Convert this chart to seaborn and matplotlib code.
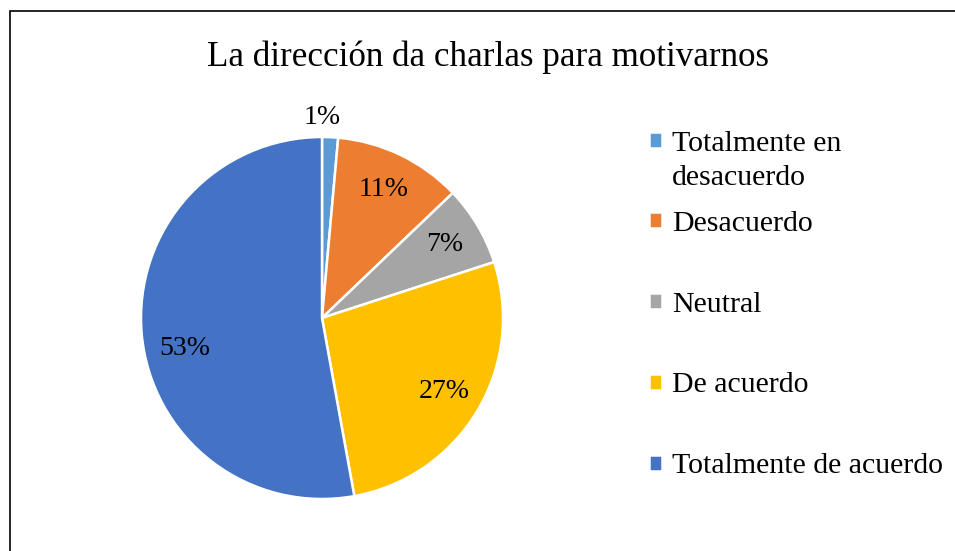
import matplotlib
matplotlib.use("Agg")
import matplotlib.pyplot as plt
import seaborn as sns
from matplotlib.patches import Rectangle

# Datos del gráfico
titulo = "La dirección da charlas para motivarnos"
categorias = ["Totalmente en\ndesacuerdo", "Desacuerdo", "Neutral",
              "De acuerdo", "Totalmente de acuerdo"]
respuestas = [1, 8, 5, 19, 37]
colores = ["#5B9BD5", "#ED7D31", "#A5A5A5", "#FFC000", "#4472C4"]

sns.set_theme(style="white")
plt.rcParams['font.family'] = ['Liberation Serif', 'DejaVu Serif']
plt.rcParams['text.color'] = 'black'

W, H = 955, 551
fig = plt.figure(figsize=(W / 100, H / 100), dpi=100)

# Marco del gráfico (borde izquierdo y superior visibles)
fig.patches.append(Rectangle((10 / W, -0.05), 1.2, (H - 11) / H + 0.05,
                             transform=fig.transFigure, fill=False,
                             edgecolor="black", linewidth=1.2))

fig.text(488 / W, 1 - 57 / H, titulo, ha="center", va="center",
         fontsize=25.2, color="black")

cx, cy, r = 322, 318, 181
ax = fig.add_axes([(cx - r) / W, (H - cy - r) / H, 2 * r / W, 2 * r / H])
wedges, textos, pcts = ax.pie(
    respuestas, colors=colores, startangle=90, counterclock=False,
    autopct=lambda p: f"{p:.0f}%", pctdistance=0.79,
    wedgeprops=dict(edgecolor="white", linewidth=1.8),
    textprops=dict(fontsize=20, color="black"))
pcts[0].set_position((0, 1.11))
pcts[4].set_position((-0.76, -0.17))
ax.set_xlim(-1, 1)
ax.set_ylim(-1, 1)
ax.set_aspect("equal")
ax.axis("off")

# Leyenda: la primera entrada ocupa dos líneas
opts = dict(frameon=False, fontsize=21.5, handlelength=0.43,
            handleheight=0.43, handletextpad=0.35, labelcolor="black",
            loc="center left")
ley1 = fig.legend(wedges[:1], categorias[:1],
                  bbox_to_anchor=(622 / W, 1 - 161 / H), **opts)
ley1.get_texts()[0].set_linespacing(1.4)
h = ley1.legend_handles[0]
h.set_y(h.get_y() + 14.5)
fig.legend(wedges[1:], categorias[1:], labelspacing=1.84,
           bbox_to_anchor=(622 / W, 1 - 345 / H), **opts)

fig.savefig("out.png", dpi=100)
